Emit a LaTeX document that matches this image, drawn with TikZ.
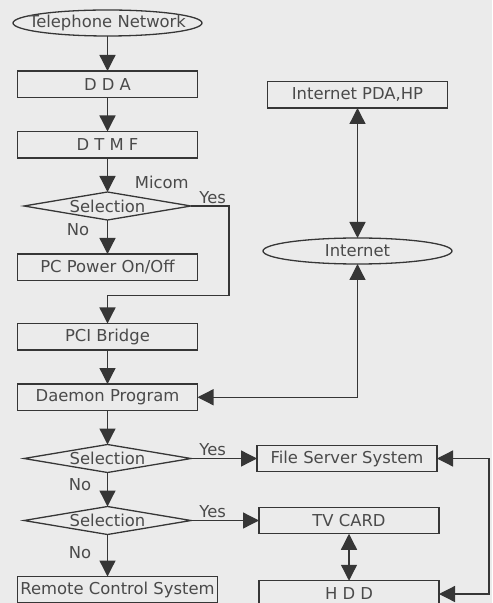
\documentclass[tikz,border=0pt]{standalone}
\usepackage{fontspec}
\setmainfont{DejaVu Sans}
\usepackage{tikz}
\usetikzlibrary{positioning}
\usetikzlibrary{calc}
\usetikzlibrary{shapes.geometric}
\usetikzlibrary{arrows.meta}

\definecolor{ink}{HTML}{363636}
\definecolor{paper}{HTML}{EBEBEB}

\tikzset{
  process/.style={draw=ink, line width=0.65pt, outer sep=0pt, minimum width=90pt, minimum height=13.25pt, inner sep=0pt, font=\fontsize{8.2}{9}\selectfont},
  terminal/.style={ellipse, draw=ink, line width=0.65pt, outer sep=0pt, minimum width=94.5pt, minimum height=13pt, inner sep=0pt, label={[note]center:#1}},
  decision/.style={diamond, draw=ink, line width=0.65pt, outer sep=0pt, aspect=6, minimum width=83.5pt, minimum height=14pt, inner sep=0pt, label={[note]center:#1}},
  note/.style={inner sep=1pt, font=\fontsize{8.2}{9}\selectfont},
  arrow/.style={draw=ink, line width=0.65pt, -{Triangle[length=8pt,width=8pt]}},
  both/.style={draw=ink, line width=0.65pt, {Triangle[length=8pt,width=8pt]}-{Triangle[length=8pt,width=8pt]}}
}

\begin{document}
\begin{tikzpicture}[node distance=17pt, text=ink!90]
\fill[paper] (0,0) rectangle (246pt,-301.5pt);
\useasboundingbox (0,0) rectangle (246pt,-301.5pt);

% left column
\node (tel)     [terminal=Telephone Network] at (53.75pt,-11.5pt) {};
\node (dda)     [process, below=17.5pt of tel]    {D D A};
\node (dtmf)    [process, below=of dda]           {D T M F};
\node (sel1)    [decision=Selection, below=of dtmf] {};
\node (pcpower) [process, below=of sel1]          {PC Power On/Off};
\node (bridge)  [process, below=21.5pt of pcpower] {PCI Bridge};
\node (daemon)  [process, below=of bridge]        {Daemon Program};
\node (sel2)    [decision=Selection, below=of daemon] {};
\node (sel3)    [decision=Selection, below=of sel2] {};
\node (remote)  [process, below=21pt of sel3, xshift=5pt, minimum width=100pt] {Remote Control System};

% right column
\node (inetpda)    [process, right=35pt of dda, yshift=-5.25pt] {Internet PDA,HP};
\node (internet)   [terminal=Internet, below=65pt of inetpda] {};
\node (fileserver) [process, right=33pt of sel2]   {File Server System};
\node (tvcard)     [process, right=34pt of sel3]   {TV CARD};
\node (hdd)        [process, below=23.5pt of tvcard] {H D D};

% labels
\node (micom) [note, anchor=south west] at ($(sel1.north)+(12.5pt,0.5pt)$) {Micom};
\node (yes1)  [note, above right=0pt and 3pt of sel1.east] {Yes};
\node (no1)   [note, below left=0.5pt and 8pt of sel1.south] {No};
\node (yes2)  [note, above right=0pt and 3pt of sel2.east] {Yes};
\node (no2)   [note, below left=2pt and 7pt of sel2.south] {No};
\node (yes3)  [note, above right=0pt and 3pt of sel3.east] {Yes};
\node (no3)   [note, below left=5pt and 7pt of sel3.south] {No};

\draw[arrow] (tel) -- (dda);
\draw[arrow] (dda) -- (dtmf);
\draw[arrow] (dtmf) -- (sel1);
\draw[arrow] (sel1) -- (pcpower);
\draw[arrow] (sel1.east) -- ++(19pt,0) |- ($(bridge.north)+(0,14pt)$) -- (bridge);
\draw[arrow] (bridge) -- (daemon);
\draw[arrow] (daemon) -- (sel2);
\draw[arrow] (sel2) -- (sel3);
\draw[arrow] (sel3) -- (sel3 |- remote.north);
\draw[arrow] (sel2) -- (fileserver);
\draw[arrow] (sel3) -- (tvcard);
\draw[both] (inetpda) -- (internet);
\draw[both] (internet) |- (daemon);
\draw[both] (tvcard) -- (hdd);
\draw[both] (fileserver.east) -- ++(26pt,0) |- (hdd.east);
\end{tikzpicture}
\end{document}
